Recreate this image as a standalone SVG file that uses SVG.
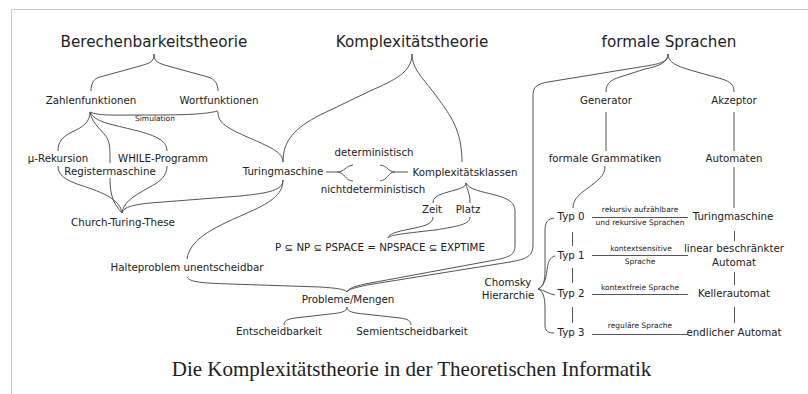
<svg xmlns="http://www.w3.org/2000/svg" width="808" height="394" viewBox="0 0 808 394">
<style>
.t{font-family:"DejaVu Sans","Liberation Sans",sans-serif;font-size:10.25px;fill:#222;text-anchor:middle}
.h{font-size:15.2px}
.s{font-size:7.5px}
.cap{font-family:"Liberation Serif","Times New Roman",serif;font-size:21px;fill:#202122;text-anchor:middle}
#connectors path{fill:none;stroke:#555;stroke-width:1}
</style>
<rect width="808" height="394" fill="#fff"/>
<path d="M11.5,394 V9.5 H808" fill="none" stroke="#c8ccd1" stroke-width="1"/>
<g id="connectors">
<path d="M154,54 C154,62 150,63 140,66 L100,77 C93,79 91,84 91,91"/>
<path d="M154,54 C154,62 158,63 168,66 L208,77 C215,79 218,84 218,91"/>
<path d="M412,54 C412,72 395,80 370,91 L320,115 C295,128 283,140 283,162"/>
<path d="M412,54 C412,70 425,80 437,97 C450,115 462,130 462,162"/>
<path d="M90,112 C100,116 110,115 150,115 C190,115 205,114 218,111"/>
<path d="M218,112 C218,122 225,127 245,136 C270,147 283,152 283,162"/>
<path d="M90,112 C90,122 83,127 72,132 C62,137 58,142 58,151"/>
<path d="M90,112 C92,125 105,132 108,140 C110,145 110,150 110,163"/>
<path d="M90,112 C95,122 110,124 130,129 C155,135 167,140 167,151"/>
<path d="M58,166 C58,175 65,180 80,185 C105,193 120,200 122,213"/>
<path d="M110,178 C110,195 113,203 122,213"/>
<path d="M167,166 C167,176 160,182 148,188 C132,197 123,203 122,213"/>
<path d="M283,180 C283,190 270,193 240,196 L150,203 C130,205 123,208 122,213"/>
<path d="M283,180 C283,195 270,203 245,214 C210,229 190,240 187,259"/>
<path d="M326,172 H337 C345,172 345,166 353,165 M337,172 C345,172 345,181 353,181"/>
<path d="M380,165 C388,166 388,172 395,172 H408 M380,181 C388,180 388,172 395,172"/>
<path d="M466,183 C466,188 458,189 448,192 C438,195 433,197 433,203"/>
<path d="M466,183 C466,188 470,192 470,203"/>
<path d="M466,183 C470,190 480,191 495,195 C510,199 515,203 515,212 L515,245 C515,255 510,257 495,260 L365,284 C352,287 348,289 347,292"/>
<path d="M433,217 C433,224 425,226 410,229 C395,232 389,234 388,238"/>
<path d="M470,217 C470,224 460,226 435,230 C400,234 390,235 388,238"/>
<path d="M668,54 C668,62 660,64 640,67 L548,82 C537,84 533,87 533,95 L533,245 C533,256 527,259 510,262 L367,285 C354,288 349,289 347,292"/>
<path d="M668,54 C668,62 660,66 645,69 L620,77 C610,80 606,84 606,92"/>
<path d="M668,54 C668,62 676,66 690,70 L722,79 C731,82 734,85 734,92"/>
<path d="M606,112 V151"/>
<path d="M734,112 V151"/>
<path d="M605,166 C605,176 598,180 588,188 C578,195 573,200 573,208"/>
<path d="M734,167 V208"/>
<path d="M592,217.5 H688 M592,255.5 H688 M592,294.5 H688 M592,334.5 H688"/>
<path d="M572.5,232 V246 M572.5,268 V283 M572.5,307 V323"/>
<path d="M734.5,231 V241 M734.5,272 V285 M734.5,307 V323"/>
<path d="M538,289 C543,287 545,282 545,270 L545,230 C545,222 548,219 554,218"/>
<path d="M538,289 C543,287 546,280 547,270 C548,262 550,257 555,256"/>
<path d="M538,289 C544,290 548,294 555,295"/>
<path d="M538,289 C543,291 545,297 545,308 L545,325 C545,331 548,333 554,333"/>
<path d="M187,277 C190,282 200,283 230,284 L320,287 C335,288 345,289 347,292"/>
<path d="M347,307 C347,312 340,313 330,314 L295,318 C287,319 284,321 284,325"/>
<path d="M347,307 C347,312 354,313 364,314 L400,318 C408,319 411,321 411,325"/>
</g>
<g id="berechenbarkeitstheorie"><text class="t h" x="154" y="47">Berechenbarkeitstheorie</text></g>
<g id="komplexitaetstheorie"><text class="t h" x="412" y="47">Komplexitätstheorie</text></g>
<g id="formale-sprachen"><text class="t h" x="669" y="47">formale Sprachen</text></g>
<g id="zahlenfunktionen"><text class="t" x="91" y="104">Zahlenfunktionen</text></g>
<g id="wortfunktionen"><text class="t" x="219" y="104">Wortfunktionen</text></g>
<g id="simulation"><text class="t s" x="155" y="121">Simulation</text></g>
<g id="mu-rekursion"><text class="t" x="58" y="162">µ-Rekursion</text></g>
<g id="while-programm"><text class="t" x="163" y="162">WHILE-Programm</text></g>
<g id="registermaschine"><text class="t" x="110" y="175">Registermaschine</text></g>
<g id="church-turing"><text class="t" x="123" y="226">Church-Turing-These</text></g>
<g id="turingmaschine"><text class="t" x="283" y="175">Turingmaschine</text></g>
<g id="deterministisch"><text class="t" x="374" y="156">deterministisch</text></g>
<g id="nichtdeterministisch"><text class="t" x="373" y="193">nichtdeterministisch</text></g>
<g id="komplexitaetsklassen"><text class="t" x="465" y="176">Komplexitätsklassen</text></g>
<g id="zeit"><text class="t" x="432" y="213">Zeit</text></g>
<g id="platz"><text class="t" x="468" y="213">Platz</text></g>
<g id="klassen"><text class="t" x="380" y="251">P ⊆ NP ⊆ PSPACE = NPSPACE ⊆ EXPTIME</text></g>
<g id="halteproblem"><text class="t" x="187" y="271">Halteproblem unentscheidbar</text></g>
<g id="probleme"><text class="t" x="348" y="303">Probleme/Mengen</text></g>
<g id="entscheidbarkeit"><text class="t" x="279" y="335">Entscheidbarkeit</text></g>
<g id="semientscheidbarkeit"><text class="t" x="412" y="335">Semientscheidbarkeit</text></g>
<g id="generator"><text class="t" x="606" y="104">Generator</text></g>
<g id="akzeptor"><text class="t" x="734" y="104">Akzeptor</text></g>
<g id="grammatiken"><text class="t" x="605" y="162">formale Grammatiken</text></g>
<g id="automaten"><text class="t" x="734" y="162">Automaten</text></g>
<g id="chomsky"><text class="t" x="508" y="286">Chomsky</text><text class="t" x="508" y="299">Hierarchie</text></g>
<g id="typ0"><text class="t" x="571" y="220">Typ 0</text></g>
<g id="typ1"><text class="t" x="571" y="259">Typ 1</text></g>
<g id="typ2"><text class="t" x="571" y="297">Typ 2</text></g>
<g id="typ3"><text class="t" x="571" y="336">Typ 3</text></g>
<g id="turingmaschine2"><text class="t" x="733" y="220">Turingmaschine</text></g>
<g id="lba"><text class="t" x="734" y="252">linear beschränkter</text><text class="t" x="734" y="266">Automat</text></g>
<g id="kellerautomat"><text class="t" x="734" y="297">Kellerautomat</text></g>
<g id="endlicher-automat"><text class="t" x="734" y="336">endlicher Automat</text></g>
<g id="label-typ0"><text class="t s" x="640" y="212">rekursiv aufzählbare</text><text class="t s" x="640" y="225">und rekursive Sprachen</text></g>
<g id="label-typ1"><text class="t s" x="641" y="251">kontextsensitive</text><text class="t s" x="640" y="264">Sprache</text></g>
<g id="label-typ2"><text class="t s" x="640" y="290">kontextfreie Sprache</text></g>
<g id="label-typ3"><text class="t s" x="640" y="328">reguläre Sprache</text></g>
<g id="caption"><text class="cap" x="411.5" y="376">Die Komplexitätstheorie in der Theoretischen Informatik</text></g>
</svg>
